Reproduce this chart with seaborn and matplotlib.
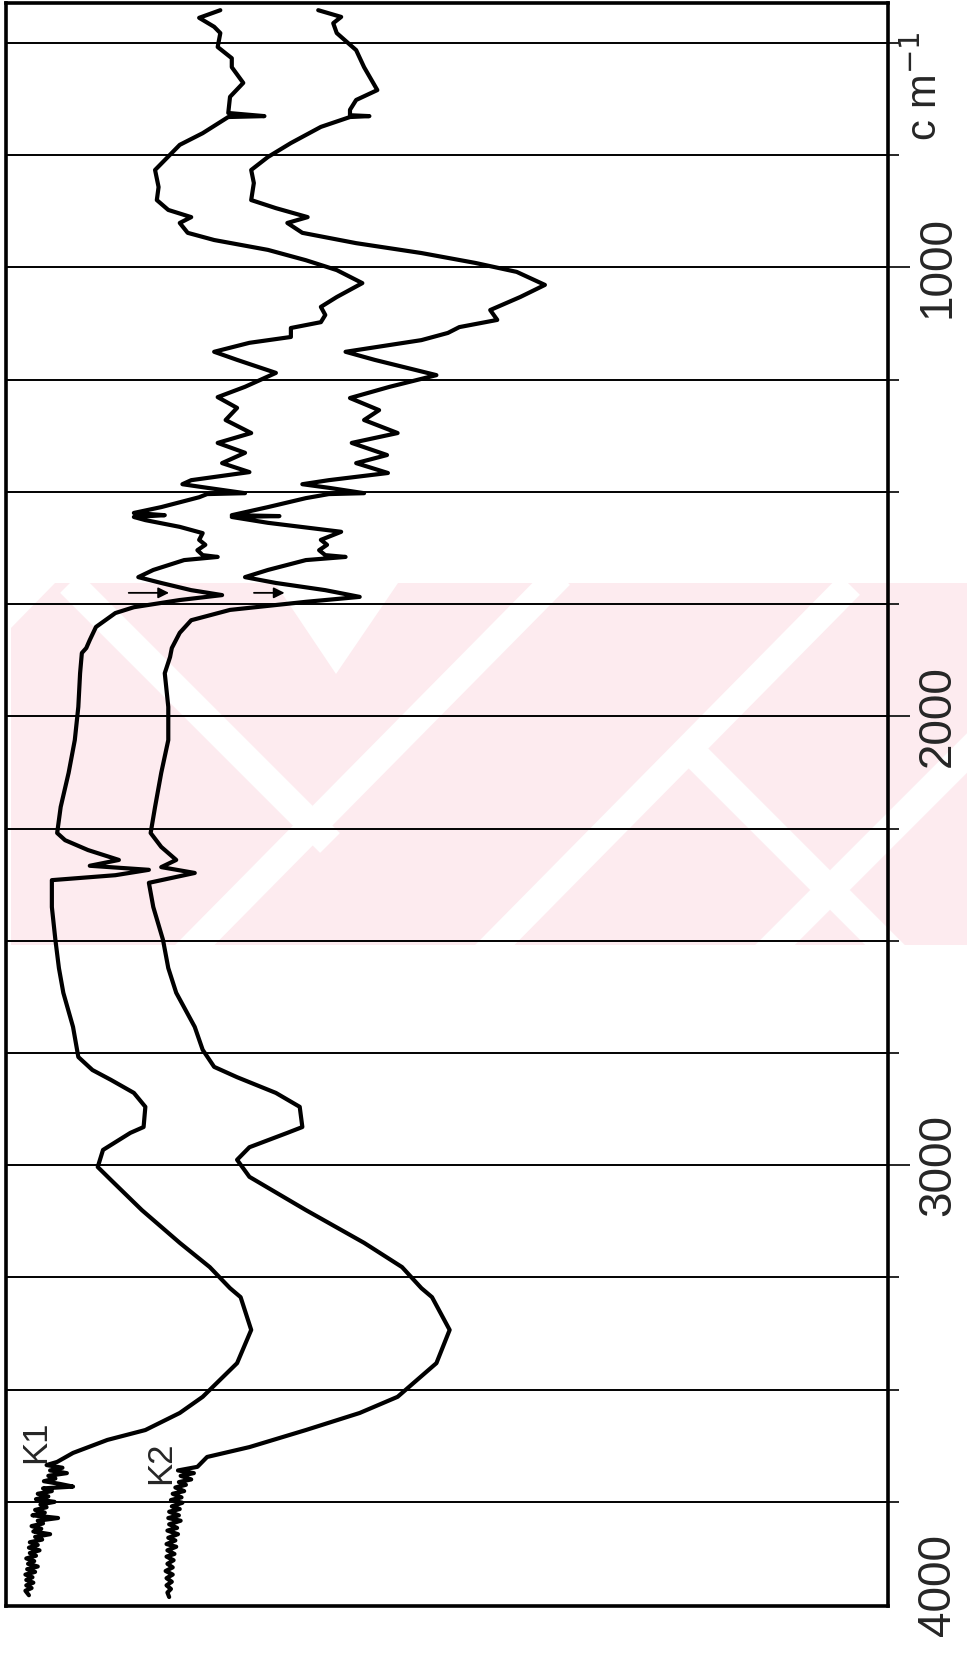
import matplotlib
matplotlib.use("Agg")
import matplotlib.pyplot as plt
from matplotlib.patches import Polygon
import numpy as np
import pandas as pd
import seaborn as sns

# wavenumber (cm-1) and transmittance (% of chart width)
k1_wn = [427, 444, 464, 478, 509, 534, 554, 589, 620, 656, 663, 665, 701, 727,
         783, 821, 850, 872, 888, 901, 923, 939, 961, 984, 1006, 1035, 1066,
         1088, 1106, 1122, 1135, 1155, 1168, 1188, 1206, 1235, 1266, 1289, 1313,
         1340, 1369, 1391, 1413, 1436, 1456, 1474, 1483, 1491, 1503, 1505, 1512,
         1534, 1547, 1552, 1556, 1563, 1578, 1592, 1607, 1618, 1630, 1641, 1645,
         1652, 1674, 1690, 1703, 1719, 1730, 1741, 1757, 1770, 1801, 1830, 1848,
         1859, 1904, 1979, 2053, 2126, 2202, 2260, 2276, 2298, 2320, 2333, 2342,
         2354, 2365, 2425, 2498, 2561, 2616, 2692, 2759, 2788, 2810, 2839, 2870,
         2915, 2928, 2966, 3004, 3033, 3100, 3173, 3227, 3274, 3294, 3367, 3441,
         3516, 3552, 3590, 3612, 3641,
         3661, 3668, 3674, 3680, 3686, 3692, 3698, 3704, 3710, 3716, 3720, 3726,
         3732, 3738, 3744, 3750, 3756, 3762, 3768, 3774, 3780, 3786, 3792, 3798,
         3804, 3810, 3816, 3822, 3828, 3834, 3840, 3846, 3852, 3858, 3864, 3870,
         3876, 3882, 3888, 3894, 3900, 3906, 3912, 3918, 3924, 3930, 3936, 3942,
         3948, 3958]
k1_t = [24.3, 21.9, 23.6, 24.3, 24.0, 25.6, 25.6, 26.9, 25.4, 25.2, 29.3, 25.2,
        22.3, 19.7, 16.9, 17.3, 17.1, 18.4, 21.0, 19.7, 20.6, 23.6, 29.7, 34.0,
        37.5, 40.4, 37.5, 35.7, 36.2, 35.7, 32.3, 32.3, 27.6, 23.6, 26.2, 30.6,
        27.1, 24.0, 26.2, 24.9, 27.8, 24.0, 27.1, 24.5, 27.6, 21.0, 20.0, 22.8,
        27.1, 22.8, 21.9, 17.6, 14.5, 18.0, 14.5, 15.8, 19.7, 22.3, 21.9, 22.6,
        21.7, 22.3, 24.0, 20.2, 16.7, 15.0, 17.6, 21.0, 24.5, 19.7, 14.5, 12.4,
        10.2, 9.5, 9.1, 8.6, 8.4, 8.2, 7.8, 7.1, 6.2, 5.8, 6.7, 9.3, 12.8, 9.5,
        16.2, 12.4, 5.2, 5.2, 5.6, 6.0, 6.5, 7.6, 8.2, 9.8, 11.9, 14.5, 15.8,
        15.6, 14.1, 11.0, 10.4, 11.9, 15.4, 19.7, 23.1, 25.4, 26.6, 27.8, 26.2,
        22.3, 19.7, 15.8, 11.5, 7.6,
        5.8, 4.6, 6.4, 5.0, 6.9, 4.8, 5.6, 4.3, 6.1, 7.6, 4.2, 5.2,
        3.6, 4.8, 3.4, 5.5, 3.9, 4.6, 3.3, 4.4, 3.0, 5.9, 3.6, 4.2,
        2.9, 4.0, 3.1, 5.0, 3.3, 4.1, 2.7, 3.6, 2.6, 3.8, 2.7, 3.4,
        2.3, 3.2, 2.5, 3.6, 2.4, 3.3, 2.2, 3.0, 2.3, 3.1, 2.3, 2.9,
        2.2, 2.6]

k2_wn = [427, 442, 456, 478, 516, 554, 605, 627, 649, 661, 663, 665, 687, 723,
         754, 783, 812, 850, 868, 888, 901, 923, 946, 968, 990, 1010, 1039,
         1066, 1095, 1117, 1133, 1146, 1162, 1188, 1206, 1240, 1266, 1291, 1318,
         1340, 1369, 1391, 1418, 1436, 1458, 1474, 1483, 1491, 1503, 1505, 1514,
         1534, 1552, 1554, 1556, 1569, 1589, 1607, 1618, 1630, 1641, 1645, 1652,
         1674, 1690, 1703, 1719, 1734, 1745, 1763, 1786, 1814, 1848, 1868, 1904,
         1979, 2053, 2126, 2202, 2260, 2291, 2320, 2336, 2349, 2360, 2371, 2425,
         2498, 2561, 2616, 2692, 2743, 2781, 2804, 2839, 2870, 2915, 2928, 2960,
         2988, 3026, 3100, 3173, 3227, 3274, 3294, 3367, 3441, 3516, 3552, 3590,
         3628, 3650,
         3672, 3680, 3686, 3692, 3700, 3706, 3712, 3718, 3726, 3732, 3740, 3746,
         3752, 3760, 3766, 3772, 3780, 3786, 3792, 3800, 3808, 3814, 3822, 3830,
         3836, 3844, 3850, 3858, 3866, 3872, 3880, 3888, 3896, 3904, 3912, 3920,
         3928, 3936, 3944, 3952, 3962]
k2_t = [35.4, 38.0, 37.1, 37.5, 39.7, 40.6, 42.1, 39.7, 39.0, 39.0, 41.2, 39.0,
        35.7, 32.3, 29.7, 27.8, 28.1, 27.8, 30.6, 34.2, 31.9, 33.6, 39.7, 47.1,
        53.2, 57.9, 61.1, 58.3, 54.9, 55.7, 51.4, 50.1, 47.1, 38.5, 41.8, 48.8,
        43.5, 39.0, 42.3, 40.6, 44.4, 39.2, 43.2, 39.7, 43.3, 36.6, 33.6, 36.6,
        40.6, 36.6, 34.0, 29.7, 25.6, 31.0, 25.6, 29.7, 38.0, 35.7, 36.4, 35.5,
        36.2, 38.5, 34.0, 29.7, 27.1, 30.6, 36.2, 40.1, 34.0, 25.4, 21.0, 19.7,
        18.8, 18.6, 18.0, 18.4, 18.4, 17.6, 16.9, 16.4, 17.6, 19.3, 17.6, 21.4,
        18.8, 16.2, 16.7, 17.8, 18.4, 19.3, 21.4, 22.3, 23.6, 26.2, 30.6, 33.3,
        33.6, 31.9, 27.6, 26.2, 27.6, 34.0, 40.6, 44.9, 47.1, 48.3, 50.3, 48.8,
        44.4, 40.1, 34.0, 27.6, 22.8,
        21.7, 19.5, 21.3, 19.8, 21.0, 19.6, 20.4, 19.2, 20.2, 18.9, 19.9, 18.7,
        20.0, 18.8, 19.7, 18.5, 19.6, 18.4, 19.8, 18.5, 19.4, 18.3, 19.5, 18.4,
        19.2, 18.2, 19.3, 18.3, 19.1, 18.2, 19.0, 18.3, 18.9, 18.1, 18.9, 18.2,
        18.8, 18.2, 18.7, 18.3, 18.5]

grid_wn = [500, 750, 1000, 1250, 1500, 1750, 2000, 2250, 2500, 2750, 3000,
           3250, 3500, 3750]
label_wn = [1000, 2000, 3000]
arrow_start = [13.6, 27.8]
arrow_end = [18.8, 31.9]
arrow_wn = 1725

sns.set_style("white")
plt.rcParams["font.family"] = ["Liberation Sans Narrow", "Liberation Sans", "DejaVu Sans"]

W, H = 967, 1659
fig = plt.figure(figsize=(W / 100, H / 100), dpi=100)


def fpoly(pts, color):
    # watermark shapes given in image pixels
    xy = [(x / W, 1 - y / H) for x, y in pts]
    fig.patches.append(Polygon(xy, closed=True, transform=fig.transFigure,
                               facecolor=color, edgecolor="none", zorder=-5))


def band(p0, p1, w=14):
    (x0, y0), (x1, y1) = p0, p1
    d = np.hypot(x1 - x0, y1 - y0)
    nx, ny = -(y1 - y0) / d * w, (x1 - x0) / d * w
    fpoly([(x0 + nx, y0 + ny), (x1 + nx, y1 + ny),
           (x1 - nx, y1 - ny), (x0 - nx, y0 - ny)], "white")


# faint pink watermark behind the chart
pink = "#fdebef"
fpoly([(11, 583), (967, 583), (967, 945), (11, 945)], pink)
band((70, 583), (330, 843))
fpoly([(275, 583), (398, 583), (336, 674)], "white")
band((180, 960), (560, 575))
band((480, 960), (850, 585))
band((760, 960), (980, 740))
band((690, 750), (900, 960))
fpoly([(11, 583), (55, 583), (11, 628)], "white")

ax = fig.add_axes([6 / W, 1 - 1606 / H, 882 / W, 1603 / H])
ax.set_facecolor("none")

df1 = pd.DataFrame({"wn": k1_wn, "T": k1_t})
df2 = pd.DataFrame({"wn": k2_wn, "T": k2_t})
for df in (df1, df2):
    sns.lineplot(data=df, x="T", y="wn", sort=False, estimator=None,
                 color="black", lw=3.0, ax=ax)
for ln in ax.lines:
    ln.set_solid_joinstyle("round")

for a, b in zip(arrow_start, arrow_end):
    ax.annotate("", xy=(b, arrow_wn), xytext=(a, arrow_wn),
                arrowprops=dict(arrowstyle="-|>", color="black", lw=1.3,
                                mutation_scale=16))

ax.text(3.4, 3617, "K1", rotation=90, ha="center", va="center", fontsize=25)
ax.text(17.5, 3663, "K2", rotation=90, ha="center", va="center", fontsize=25)

ax.set_xlim(0, 100)
ax.set_ylim(3982, 411)
ax.set_xticks([])
ax.yaxis.tick_right()
ax.set_yticks(label_wn)
ax.set_yticklabels([str(v) for v in label_wn], rotation=90, va="center")
ax.set_yticks([v for v in grid_wn if v not in label_wn], minor=True)
ax.tick_params(axis="y", which="major", direction="out", length=16, width=1.4,
               pad=4, labelsize=33, right=True, left=False)
ax.tick_params(axis="y", which="minor", direction="out", length=8, width=1.4,
               right=True, left=False)
ax.grid(True, which="both", axis="y", color="black", lw=1.4)
ax.set_xlabel("")
ax.set_ylabel("")
for s in ax.spines.values():
    s.set_visible(True)
    s.set_color("black")
    s.set_linewidth(2.6)

ax.text(1.032, 3935, "4000", transform=ax.get_yaxis_transform(),
        rotation=90, ha="left", va="center", fontsize=33)
ax.text(1.018, 0.948, "c m$^{-1}$", transform=ax.transAxes,
        rotation=90, ha="left", va="center", fontsize=30)

fig.savefig("out.png", dpi=100, facecolor="white")
